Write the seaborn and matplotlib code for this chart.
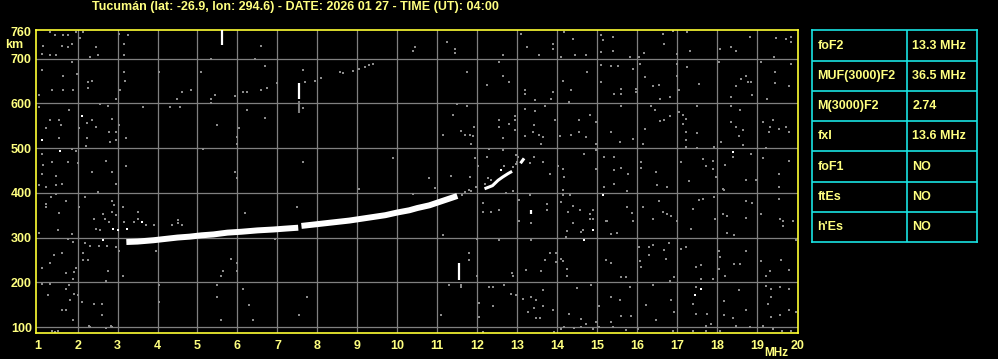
import matplotlib
matplotlib.use("Agg")
import matplotlib.pyplot as plt
import seaborn as sns
import pandas as pd

# ---------------- data ----------------
title = "Tucumán (lat: -26.9, lon: 294.6) - DATE: 2026 01 27 - TIME (UT): 04:00"
freq_ticks = list(range(1, 21))
height_ticks = [100, 200, 300, 400, 500, 600, 700, 760]
grid_heights = [100, 200, 300, 400, 500, 600, 700]

# F2 trace (white), two pieces separated by a small gap near 7.5 MHz
trace1_f = [3.22, 3.5, 3.9, 4.2, 4.5, 4.8, 5.1, 5.4, 5.75, 6.1, 6.5, 6.9, 7.2, 7.52]
trace1_h = [290, 291, 294, 297, 300, 302, 305, 307, 311, 313, 316, 318, 320, 322]
trace2_f = [7.6, 7.9, 8.2, 8.5, 8.8, 9.1, 9.4, 9.7, 10.0, 10.3, 10.5, 10.8, 11.0, 11.2, 11.5]
trace2_h = [326, 329, 332, 335, 338, 342, 346, 350, 356, 361, 366, 372, 378, 384, 393]
# upper branch near critical frequency
trace3_f = [12.18, 12.38, 12.52, 12.63, 12.77, 12.87]
trace3_h = [409, 416, 428, 435, 443, 448]
trace4_f = [13.08, 13.17]
trace4_h = [466, 477]

# vertical echo streaks: frequency, bottom, top (km)
streak_f = [5.62, 7.54, 11.54, 13.35]
streak_lo = [730, 610, 206, 352]
streak_hi = [763, 645, 244, 362]
gstreak_f = [7.54]
gstreak_lo = [578]
gstreak_hi = [605]

# isolated white echoes
white_f = [1.1, 1.55, 2.1, 2.64, 2.89, 3.0, 3.24, 3.6, 14.89, 14.68, 15.14, 18.39, 17.6, 17.45, 12.6]
white_h = [518, 493, 571, 295, 318, 316, 318, 335, 317, 295, 396, 491, 184, 172, 452]

# gray noise echoes
noise_f = [
    1.31, 1.43, 1.64, 1.75, 1.96, 2.14, 2.06, 3.04, 3.25, 3.16, 1.14, 1.6, 1.75, 1.85, 2.46, 1.1, 1.31, 1.45,
    2.31, 2.5, 3.16, 5.35, 1.85, 1.1, 1.64, 1.99, 4.04, 5.09, 2.25, 2.35, 2.27, 1.35, 1.64, 1.89, 3.06, 3.19,
    3.16, 4.6, 4.84, 4.49, 5.45, 5.35, 5.35, 1.04, 2.95, 2.75, 2.55, 3.64, 4.31, 4.56, 1.04, 1.79, 1.31, 1.54,
    1.58, 2.23, 2.35, 2.85, 3.04, 2.46, 1.2, 2.04, 2.79, 2.95, 5.5, 1.54, 2.23, 2.81, 2.96, 3.2, 2.2, 5.15,
    1.85, 1.96, 1.1, 1.35, 1.14, 1.75, 2.0, 2.7, 3.2, 1.1, 2.35, 2.85, 1.45, 1.6, 1.45, 1.04, 1.2, 2.95, 1.33,
    1.45, 1.2, 1.2, 1.7, 2.18, 2.5, 2.85, 2.04, 2.92, 3.14, 1.54, 2.85, 2.64, 2.97, 3.5, 3.5, 2.68, 2.4, 2.46,
    2.56, 2.79, 3.16, 3.4, 3.7, 3.9, 4.35, 4.5, 4.5, 4.6, 1.5, 1.85, 1.04, 1.75, 1.89, 2.18, 2.31, 2.53, 2.74,
    2.96, 3.04, 3.95, 2.14, 1.6, 1.4, 2.13, 2.27, 1.1, 1.31, 1.96, 2.75, 1.9, 1.7, 1.89, 2.7, 3.14, 5.64, 5.6,
    1.1, 1.31, 1.79, 1.7, 1.9, 1.8, 1.27, 2.02, 1.7, 2.1, 2.4, 2.6, 2.6, 4.04, 4.04, 5.5, 5.5, 5.6, 1.6, 1.89,
    2.31, 2.85, 1.35, 1.43, 1.5, 2.7, 2.28, 2.84,
    6.6, 6.45, 6.7, 7.64, 6.98, 7.7, 7.95, 8.1, 8.56, 8.64, 8.89, 9.03, 9.2, 9.29, 9.39, 10.39, 10.45, 6.14,
    6.25, 6.6, 6.75, 5.95, 6.25, 6.7, 7.64, 6.04, 5.99, 5.99, 7.65, 5.95, 5.99, 9.89, 9.04, 10.39, 7.5, 6.2,
    6.95, 5.85, 5.99, 5.99, 6.15, 6.29, 6.39, 7.74, 7.54,
    11.25, 11.45, 11.45, 11.74, 12.64, 12.54, 13.1, 13.25, 13.54, 13.89, 13.89, 14.1, 14.18, 14.39, 14.45,
    14.73, 15.1, 15.1, 15.14, 12.24, 12.64, 12.79, 13.2, 13.2, 13.45, 13.89, 13.85, 14.14, 14.29, 14.35, 14.74,
    15.1, 15.1, 11.5, 11.39, 11.75, 11.14, 11.6, 11.7, 11.81, 11.89, 11.85, 11.91, 12.54, 12.54, 12.64, 12.79,
    12.95, 12.95, 12.95, 13.2, 13.2, 13.45, 13.43, 13.39, 13.54, 13.64, 13.6, 13.7, 13.95, 14.06, 14.35, 14.54,
    14.54, 14.73, 14.81, 14.96, 14.98, 12.29, 12.64, 12.24, 11.95, 12.02, 13.02, 12.98, 13.31, 13.43, 13.64,
    13.81, 14.02, 14.14, 14.14, 14.18, 14.68, 14.98, 14.98, 15.18, 15.18, 10.79, 10.95, 11.35, 11.81, 11.96,
    12.35, 12.73, 12.89, 13.04, 13.04, 13.35, 13.31, 13.74, 13.74, 14.1, 14.14, 14.31, 14.39, 14.58, 14.27,
    14.81, 14.89, 14.81, 14.89, 15.21, 14.39, 14.64, 14.6, 14.25, 14.21, 12.54, 12.35, 12.14, 12.14, 11.14,
    11.99, 12.54, 13.35, 11.79, 11.79, 11.99, 12.89, 12.87, 13.7, 13.81, 13.96, 13.98, 14.1, 14.14, 14.25,
    14.25, 13.6, 13.23, 11.29, 11.6, 11.6, 12.29, 12.39, 12.68, 12.98, 12.85, 12.03, 12.39, 13.14, 13.35,
    13.48, 13.64, 13.64, 13.43, 13.27, 13.48, 13.56, 13.89, 14.29, 14.5, 14.85, 15.04, 14.6, 14.6, 14.73,
    14.98, 11.1, 12.03, 12.14, 13.93, 14.1, 14.18, 14.43, 14.89, 15.04,
    12.18, 12.27, 12.68, 12.89, 12.99, 12.98, 11.62, 11.7, 11.8, 11.85,
    15.39, 15.39, 15.83, 16.04, 16.18, 16.64, 16.66, 16.89, 17.24, 17.31, 16.99, 18.06, 18.35, 18.48, 18.81,
    19.48, 19.85, 19.85, 19.73, 19.43, 15.35, 15.52, 15.89, 16.06, 16.2, 16.39, 16.54, 16.99, 17.24, 16.99,
    17.54, 18.04, 18.46, 18.6, 18.71, 18.77, 18.85, 19.1, 19.45, 19.45, 19.85, 19.79, 15.41, 15.6, 15.6, 15.96,
    15.96, 16.56, 16.81, 17.04, 17.49, 18.35, 18.86, 19.25, 15.6, 16.35, 16.45, 16.56, 16.68, 16.81, 17.14,
    17.14, 17.21, 17.04, 17.49, 17.21, 17.23, 18.35, 18.56, 18.35, 18.48, 18.64, 18.54, 18.1, 19.14, 19.31,
    19.39, 19.29, 19.54, 19.73, 19.79, 15.35, 15.56, 15.89, 16.14, 16.2, 17.22, 17.49, 17.91, 18.64, 18.85,
    19.21, 15.43, 15.6, 15.43, 15.43, 15.77, 16.1, 16.1, 16.46, 16.5, 16.75, 17.1, 17.29, 17.64, 17.71, 17.89,
    17.89, 17.96, 18.2, 18.16, 18.39, 18.72, 18.97, 19.14, 19.54, 19.54, 19.54, 19.79, 15.75, 15.25, 15.35,
    15.5, 15.75, 15.88, 15.89, 16.14, 16.39, 16.54, 16.64, 16.75, 16.85, 16.99, 17.35, 17.39, 17.54, 17.64,
    17.95, 17.93, 18.14, 18.14, 18.24, 18.25, 18.43, 18.72, 18.71, 18.87, 19.1, 19.56, 19.64, 19.64, 19.89,
    19.96, 15.23, 15.35, 15.6, 15.72, 15.35, 15.56, 15.81, 15.6, 15.85, 15.35, 16.04, 16.29, 16.29, 16.39,
    16.68, 16.79, 16.71, 16.06, 16.1, 16.39, 16.21, 16.48, 16.85, 16.81, 16.93, 16.93, 17.1, 17.23, 17.46,
    17.6, 17.6, 17.48, 17.39, 17.46, 17.75, 17.73, 17.89, 17.85, 18.04, 18.06, 18.04, 18.2, 18.16, 18.18,
    18.39, 18.43, 18.56, 18.54, 18.71, 18.72, 18.48, 18.81, 19.1, 19.21, 19.31, 19.21, 19.35, 19.35, 19.27,
    19.35, 19.56, 19.79, 19.6, 19.79, 19.79, 19.96, 19.56, 19.63, 19.85, 19.39, 19.14, 18.06, 17.71, 17.39,
    16.89, 16.02, 15.73, 15.39,
]
noise_h = [
    759, 752, 752, 752, 759, 759, 747, 755, 752, 733, 729, 729, 726, 733, 727, 711, 707, 707,
    703, 707, 707, 700, 692, 674, 660, 666, 670, 670, 648, 651, 635, 629, 629, 629, 629, 651,
    670, 625, 629, 610, 618, 610, 601, 618, 610, 595, 598, 592, 592, 592, 592, 584, 562, 562,
    551, 556, 562, 566, 551, 548, 545, 545, 536, 536, 551, 522, 522, 513, 517, 522, 504, 498,
    498, 493, 486, 469, 463, 469, 466, 472, 459, 442, 446, 446, 437, 420, 417, 417, 413, 420, 390,
    398, 376, 368, 381, 390, 401, 381, 368, 373, 368, 355, 357, 353, 350, 357, 342, 342, 342, 320,
    316, 335, 335, 335, 327, 327, 327, 340, 333, 327, 316, 308, 310, 297, 291, 287, 282, 282, 282,
    279, 270, 270, 265, 265, 260, 250, 250, 232, 243, 232, 225, 222, 221, 208, 203, 213, 225, 215,
    197, 197, 193, 186, 174, 161, 171, 171, 137, 156, 151, 151, 128, 193, 156, 193, 167, 115, 137, 115,
    101, 101, 92, 88, 92, 98, 102, 102,
    729, 698, 683, 674, 646, 648, 651, 656, 670, 668, 672, 676, 681, 686, 687, 717, 726, 625,
    625, 629, 634, 616, 584, 567, 589, 545, 525, 508, 469, 446, 433, 478, 408, 398, 368, 355,
    296, 251, 243, 225, 185, 150, 115, 167, 128,
    737, 721, 712, 670, 707, 692, 754, 726, 707, 733, 722, 703, 759, 744, 707,
    707, 752, 715, 741, 640, 660, 648, 629, 621, 608, 625, 610, 651, 604, 629, 670,
    685, 648, 599, 573, 593, 530, 538, 530, 530, 526, 510, 548, 562, 548, 523, 554,
    571, 562, 540, 588, 526, 583, 552, 536, 530, 525, 510, 593, 563, 526, 530, 536,
    562, 525, 573, 558, 510, 498, 495, 481, 478, 461, 480, 465, 466, 480, 469,
    441, 461, 454, 407, 435, 486, 495, 454, 480, 413, 433, 410, 437, 435, 414,
    428, 399, 403, 383, 338, 332, 394, 361, 376, 379, 394, 394, 370, 361, 358,
    353, 361, 342, 342, 338, 332, 317, 312, 314, 302, 361, 357, 377, 357, 305,
    297, 295, 295, 265, 250, 215, 215, 220, 250, 265, 265, 245, 253, 247, 230,
    215, 226, 228, 194, 193, 189, 189, 189, 193, 171, 174, 153, 146, 163, 167,
    161, 182, 146, 143, 133, 121, 121, 137, 129, 188, 193, 146, 118, 101, 107,
    111, 128, 122, 89, 89, 96, 101, 98, 96, 101,
    420, 433, 459, 457, 469, 484, 395, 402, 406, 404,
    748, 718, 703, 703, 712, 756, 733, 761, 759, 718, 711, 722, 726, 717, 748,
    747, 748, 737, 744, 703, 683, 683, 677, 688, 659, 638, 642, 688, 681, 662,
    644, 692, 638, 655, 660, 648, 648, 692, 670, 645, 688, 638, 621, 633, 621, 633,
    625, 610, 615, 629, 595, 615, 618, 610, 593, 593, 584, 560, 562, 571, 573,
    554, 566, 580, 534, 536, 517, 593, 584, 558, 548, 540, 528, 513, 558, 547,
    562, 536, 543, 548, 536, 536, 513, 521, 508, 543, 502, 500, 502, 506, 487,
    500, 481, 456, 450, 420, 441, 469, 455, 446, 417, 414, 469, 426, 476, 461, 472,
    454, 435, 463, 407, 480, 428, 428, 478, 441, 413, 387, 472, 405, 337, 307,
    310, 368, 355, 338, 368, 342, 381, 357, 353, 349, 337, 318, 363, 384, 387,
    342, 390, 409, 353, 349, 310, 305, 344, 381, 377, 353, 342, 338, 325, 337,
    294, 249, 243, 212, 212, 167, 161, 189, 124, 124, 111, 280, 279, 260, 284,
    273, 288, 253, 247, 234, 193, 150, 115, 161, 203, 133, 212, 275, 279, 234,
    238, 208, 189, 152, 130, 130, 103, 208, 107, 271, 256, 230, 215, 159, 126,
    121, 241, 241, 182, 271, 139, 103, 101, 247, 215, 225, 191, 186, 167, 152,
    122, 189, 228, 250, 186, 139, 133, 126, 92, 92, 95, 103, 92, 92, 92,
    92, 96, 94, 101,
]

table_labels = ["foF2", "MUF(3000)F2", "M(3000)F2", "fxI", "foF1", "ftEs", "h'Es"]
table_values = ["13.3 MHz", "36.5 MHz", "2.74", "13.6 MHz", "NO", "NO", "NO"]

# ---------------- style ----------------
sns.set_theme(style="dark")
FONT = ["Liberation Sans", "DejaVu Sans"]
plt.rcParams["font.family"] = FONT
BG = "black"
YEL = "#ffff80"
BORDER = "#ffff33"
GRID = "#808080"
CYAN = "#19e3e3"

fig = plt.figure(figsize=(9.98, 3.59), dpi=100, facecolor=BG)
ax = fig.add_axes([36 / 998, 1 - 333.3 / 359, 761.5 / 998, 303.8 / 359])
ax.set_facecolor(BG)

ax.set_xlim(0.96, 20.01)
ax.set_ylim(86, 765)

for f in freq_ticks[1:-1]:
    ax.axvline(f, color=GRID, lw=0.9, zorder=1)
for h in grid_heights:
    ax.axhline(h, color=GRID, lw=0.9, zorder=1)

noise_df = pd.DataFrame({"f": noise_f, "h": noise_h})
sns.scatterplot(data=noise_df, x="f", y="h", ax=ax, color="#8c8c8c", marker="s", s=4,
                linewidth=0, zorder=2, legend=False)

ax.vlines(gstreak_f, gstreak_lo, gstreak_hi, color=GRID, lw=1.5, zorder=3)

for tf, th, lw in [(trace1_f, trace1_h, 4.3), (trace2_f, trace2_h, 4.3),
                   (trace3_f, trace3_h, 2.2), (trace4_f, trace4_h, 2.2)]:
    d = pd.DataFrame({"f": tf, "h": th})
    sns.lineplot(data=d, x="f", y="h", ax=ax, color="white", lw=lw, sort=False,
                 estimator=None, zorder=4, solid_capstyle="butt", legend=False)

ax.vlines(streak_f, streak_lo, streak_hi, color="white", lw=1.6, zorder=4)
white_df = pd.DataFrame({"f": white_f, "h": white_h})
sns.scatterplot(data=white_df, x="f", y="h", ax=ax, color="white", marker="s", s=4,
                linewidth=0, zorder=4, legend=False)

ax.set_xlabel("")
ax.set_ylabel("")
ax.grid(False)
ax.set_xticks(freq_ticks)
ax.set_xticklabels([str(v) for v in freq_ticks])
ax.set_yticks(height_ticks)
ax.set_yticklabels([str(v) for v in height_ticks])
ax.tick_params(axis="both", length=0, colors=YEL, labelsize=9)
ax.tick_params(axis="x", pad=5)
ax.tick_params(axis="y", pad=3)
for lab in ax.get_xticklabels() + ax.get_yticklabels():
    lab.set_fontweight("bold")
    lab.set_color(YEL)
for sp in ax.spines.values():
    sp.set_visible(True)
    sp.set_color(BORDER)
    sp.set_linewidth(1.2)

fig.text(295 / 998, 1 - 7 / 359, title, color=YEL, fontsize=9, fontweight="bold",
         ha="center", va="center")
fig.text(14 / 998, 1 - 45 / 359, "km", color=YEL, fontsize=9, fontweight="bold",
         ha="center", va="center")
fig.text(776 / 998, 1 - 353 / 359, "MHz", color=YEL, fontsize=8.5, fontweight="bold",
         ha="center", va="center")

# ---------------- parameter table ----------------
tax = fig.add_axes([812.3 / 998, 1 - 242.3 / 359, 165 / 998, 212 / 359])
tax.set_facecolor(BG)
tax.set_xlim(0, 165)
tax.set_ylim(212, 0)
tax.set_xticks([])
tax.set_yticks([])
for sp in tax.spines.values():
    sp.set_color(CYAN)
    sp.set_linewidth(1.2)
bounds = [0, 31, 61, 91, 121, 152, 182, 212]
for b in bounds[1:-1]:
    tax.axhline(b, color=CYAN, lw=1.2)
tax.axvline(95, color=CYAN, lw=1.2)
for i, (lab, val) in enumerate(zip(table_labels, table_values)):
    yc = (bounds[i] + bounds[i + 1]) / 2
    tax.text(5, yc, lab, color=YEL, fontsize=9, fontweight="bold", va="center", ha="left")
    tax.text(100, yc, val, color=YEL, fontsize=9, fontweight="bold", va="center", ha="left")

fig.savefig("out.png", dpi=100, facecolor=BG)
